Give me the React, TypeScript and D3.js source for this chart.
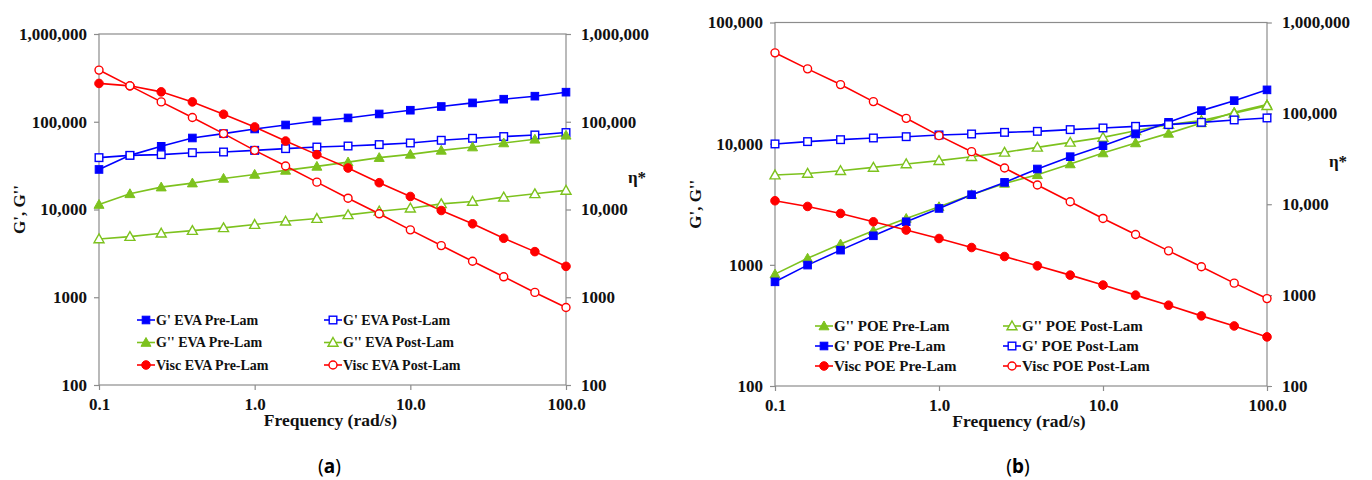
import React, { useRef, useEffect } from "react";
import * as d3 from "d3";

// shared frequency grid (rad/s)
const frequency = [0.1, 0.158, 0.251, 0.398, 0.631, 1.0, 1.58, 2.51, 3.98, 6.31, 10, 15.8, 25.1, 39.8, 63.1, 100];
const xTickValues = [0.1, 1, 10, 100];
const xTickLabels = ["0.1", "1.0", "10.0", "100.0"];

// (a) EVA
const gPrimeEvaPre = [28600, 41400, 52500, 65300, 73300, 82700, 91900, 102000, 110500, 122700, 135300, 149200, 164000, 180700, 195600, 217300];
const gPrimeEvaPost = [39000, 41400, 42200, 44400, 45200, 47200, 49400, 51500, 52900, 54900, 57300, 61500, 64800, 67800, 70700, 75300];
const gDoubleEvaPre = [11400, 15100, 18000, 20000, 22600, 25100, 27900, 31000, 34700, 39000, 42500, 47200, 51500, 57300, 63100, 70100];
const gDoubleEvaPost = [4620, 4910, 5360, 5750, 6180, 6740, 7350, 7890, 8690, 9560, 10350, 11600, 12340, 13830, 15100, 16500];
const viscEvaPre = [273400, 256600, 219200, 168400, 121800, 87300, 60300, 42200, 29700, 20200, 14080, 9740, 6870, 4700, 3310, 2250];
const viscEvaPost = [388000, 256600, 168400, 111700, 73300, 47200, 31300, 20500, 13460, 8930, 5860, 3880, 2570, 1710, 1135, 765];

// (b) POE
const gDoublePoePre = [838, 1132, 1483, 1910, 2413, 3015, 3790, 4700, 5540, 6800, 8380, 10140, 12160, 14830, 18150, 21000];
const gDoublePoePost = [5510, 5680, 5980, 6370, 6800, 7240, 7810, 8480, 9320, 10250, 11270, 12790, 14360, 15500, 17800, 20600];
const gPrimePoePre = [724, 995, 1322, 1737, 2267, 2920, 3790, 4790, 6180, 7810, 9620, 12020, 15000, 18740, 22650, 27800];
const gPrimePoePost = [9950, 10400, 10790, 11140, 11420, 11800, 12020, 12400, 12640, 13060, 13480, 13900, 14360, 15000, 15700, 16300];
const viscPoePre = [10930, 9460, 7920, 6410, 5200, 4200, 3340, 2660, 2100, 1660, 1290, 1000, 775, 591, 458, 347];
const viscPoePost = [463600, 309000, 207400, 134800, 88200, 56900, 37900, 25050, 16280, 10660, 6980, 4650, 3070, 2050, 1355, 916];

const evaLeftTicks = [100, 1000, 10000, 100000, 1000000];
const poeLeftTicks = [100, 1000, 10000, 100000];
const rightTicks = [100, 1000, 10000, 100000, 1000000];

const BLUE = "#0000ff";
const GREEN = "#7dc21e";
const RED = "#ff0000";
const AXIS = "#8c8c8c";
const INK = "#111";
const FONT = "'Liberation Serif', 'Times New Roman', serif";

type Marker = "square" | "triangle" | "circle";
interface Series {
  label: string;
  values: number[];
  color: string;
  marker: Marker;
  filled: boolean;
  axis: "left" | "right";
}
interface Panel {
  left: number;
  right: number;
  top: number;
  bottom: number;
  leftDomain: [number, number];
  leftTicks: number[];
  caption: string;
  series: Series[]; // legend order, row by row (pre, post)
  legendX: [number, number];
  legendY: number[];
  legendFont: number;
  etaY: number;
}

const fmt = (v: number) => (v >= 10000 ? d3.format(",")(v) : String(v));

const panels: Panel[] = [
  {
    left: 99, right: 566, top: 34, bottom: 385,
    leftDomain: [100, 1000000], leftTicks: evaLeftTicks, caption: "a",
    series: [
      { label: "G' EVA Pre-Lam", values: gPrimeEvaPre, color: BLUE, marker: "square", filled: true, axis: "left" },
      { label: "G' EVA Post-Lam", values: gPrimeEvaPost, color: BLUE, marker: "square", filled: false, axis: "left" },
      { label: "G'' EVA Pre-Lam", values: gDoubleEvaPre, color: GREEN, marker: "triangle", filled: true, axis: "left" },
      { label: "G'' EVA Post-Lam", values: gDoubleEvaPost, color: GREEN, marker: "triangle", filled: false, axis: "left" },
      { label: "Visc EVA Pre-Lam", values: viscEvaPre, color: RED, marker: "circle", filled: true, axis: "right" },
      { label: "Visc EVA Post-Lam", values: viscEvaPost, color: RED, marker: "circle", filled: false, axis: "right" },
    ],
    legendX: [146, 333],
    legendY: [320, 342.5, 365],
    legendFont: 14,
    etaY: 183,
  },
  {
    left: 775, right: 1267, top: 22.5, bottom: 386,
    leftDomain: [100, 100000], leftTicks: poeLeftTicks, caption: "b",
    series: [
      { label: "G'' POE Pre-Lam", values: gDoublePoePre, color: GREEN, marker: "triangle", filled: true, axis: "left" },
      { label: "G'' POE Post-Lam", values: gDoublePoePost, color: GREEN, marker: "triangle", filled: false, axis: "left" },
      { label: "G' POE Pre-Lam", values: gPrimePoePre, color: BLUE, marker: "square", filled: true, axis: "left" },
      { label: "G' POE Post-Lam", values: gPrimePoePost, color: BLUE, marker: "square", filled: false, axis: "left" },
      { label: "Visc POE Pre-Lam", values: viscPoePre, color: RED, marker: "circle", filled: true, axis: "right" },
      { label: "Visc POE Post-Lam", values: viscPoePost, color: RED, marker: "circle", filled: false, axis: "right" },
    ],
    legendX: [824, 1012],
    legendY: [326, 346, 366],
    legendFont: 15,
    etaY: 167,
  },
];

function drawMarker(g: d3.Selection<SVGGElement, unknown, null, undefined>, s: Series, x: number, y: number) {
  const fill = s.filled ? s.color : "#ffffff";
  if (s.marker === "square") {
    g.append("rect").attr("x", x - 3.8).attr("y", y - 3.8).attr("width", 7.6).attr("height", 7.6)
      .attr("fill", fill).attr("stroke", s.color).attr("stroke-width", s.filled ? 1 : 1.4);
  } else if (s.marker === "triangle") {
    g.append("path").attr("d", `M${x},${y - 5}L${x + 5},${y + 3.8}L${x - 5},${y + 3.8}Z`)
      .attr("fill", fill).attr("stroke", s.color).attr("stroke-width", s.filled ? 1 : 1.4);
  } else {
    g.append("circle").attr("cx", x).attr("cy", y).attr("r", s.filled ? 4.3 : 4)
      .attr("fill", fill).attr("stroke", s.color).attr("stroke-width", s.filled ? 1 : 1.4);
  }
}

const App: React.FC = () => {
  const svgRef = useRef<SVGSVGElement | null>(null);

  useEffect(() => {
    if (!svgRef.current) return;
    const svg = d3.select(svgRef.current);
    svg.selectAll("*").remove();

    panels.forEach((p) => {
      const g = svg.append("g");
      const x = d3.scaleLog().domain([0.1, 100]).range([p.left, p.right]);
      const yL = d3.scaleLog().domain(p.leftDomain).range([p.bottom, p.top]);
      const yR = d3.scaleLog().domain([100, 1000000]).range([p.bottom, p.top]);

      // plot frame
      g.append("rect").attr("x", p.left).attr("y", p.top)
        .attr("width", p.right - p.left).attr("height", p.bottom - p.top)
        .attr("fill", "none").attr("stroke", AXIS).attr("stroke-width", 1.2);

      const styleAxis = (ax: d3.Selection<SVGGElement, unknown, null, undefined>) => {
        ax.select(".domain").remove();
        ax.selectAll(".tick line").attr("stroke", AXIS).attr("stroke-width", 1.2);
        ax.selectAll("text").attr("fill", INK).style("font-family", FONT)
          .style("font-size", "17px").style("font-weight", "bold");
      };

      // left axis
      styleAxis(g.append("g").attr("transform", `translate(${p.left},0)`)
        .call(d3.axisLeft(yL).tickValues(p.leftTicks).tickFormat((d) => fmt(+d)).tickSize(5).tickPadding(7)));

      // right axis
      styleAxis(g.append("g").attr("transform", `translate(${p.right},0)`)
        .call(d3.axisRight(yR).tickValues(rightTicks).tickFormat((d) => fmt(+d)).tickSize(5).tickPadding(10)));

      // bottom axis
      styleAxis(g.append("g").attr("transform", `translate(0,${p.bottom})`)
        .call(d3.axisBottom(x).tickValues(xTickValues).tickFormat((_, i) => xTickLabels[i]).tickSize(5).tickPadding(8)));

      // titles
      const cx = (p.left + p.right) / 2;
      const cy = (p.top + p.bottom) / 2;
      g.append("text").attr("x", cx - 2).attr("y", p.bottom + 41).attr("text-anchor", "middle")
        .style("font-family", FONT).style("font-size", "17.5px").style("font-weight", "bold").attr("fill", INK)
        .text("Frequency (rad/s)");
      g.append("text").attr("transform", `translate(${p.left - 74},${cy}) rotate(-90)`).attr("text-anchor", "middle")
        .style("font-family", FONT).style("font-size", "17px").style("font-weight", "bold").attr("fill", INK)
        .text("G', G''");
      g.append("text").attr("x", p.right + 71).attr("y", p.etaY).attr("text-anchor", "middle")
        .style("font-family", FONT).style("font-size", "17px").style("font-weight", "bold").attr("fill", INK)
        .text("η*");

      // caption
      const cap = g.append("text").attr("x", cx - 3).attr("y", 473).attr("text-anchor", "middle")
        .style("font-family", "'Noto Sans', sans-serif").style("font-size", "19px").attr("fill", "#000");
      cap.append("tspan").text("(");
      cap.append("tspan").style("font-weight", "bold").text(p.caption);
      cap.append("tspan").text(")");

      // series
      const line = d3.line<number>().x((_, i) => x(frequency[i]));
      p.series.forEach((s) => {
        const y = s.axis === "left" ? yL : yR;
        g.append("path")
          .attr("d", line.y((d) => y(d))(s.values) as string)
          .attr("fill", "none").attr("stroke", s.color).attr("stroke-width", 1.6);
      });
      p.series.forEach((s) => {
        const y = s.axis === "left" ? yL : yR;
        const mg = g.append("g");
        s.values.forEach((v, i) => drawMarker(mg, s, x(frequency[i]), y(v)));
      });

      // legend: two columns, pre / post
      p.series.forEach((s, i) => {
        const lx = p.legendX[i % 2];
        const ly = p.legendY[Math.floor(i / 2)];
        const lg = g.append("g");
        lg.append("line").attr("x1", lx - 9).attr("x2", lx + 9).attr("y1", ly).attr("y2", ly)
          .attr("stroke", s.color).attr("stroke-width", 1.6);
        drawMarker(lg, s, lx, ly);
        lg.append("text").attr("x", lx + 10).attr("y", ly).attr("dy", "0.35em")
          .style("font-family", FONT).style("font-size", `${p.legendFont}px`).style("font-weight", "bold").attr("fill", INK)
          .text(s.label);
      });
    });
  }, []);

  return (
    <svg ref={svgRef} width={1372} height={480}
      style={{ position: "absolute", left: 0, top: 0, background: "#fff" }} />
  );
};

export default App;
